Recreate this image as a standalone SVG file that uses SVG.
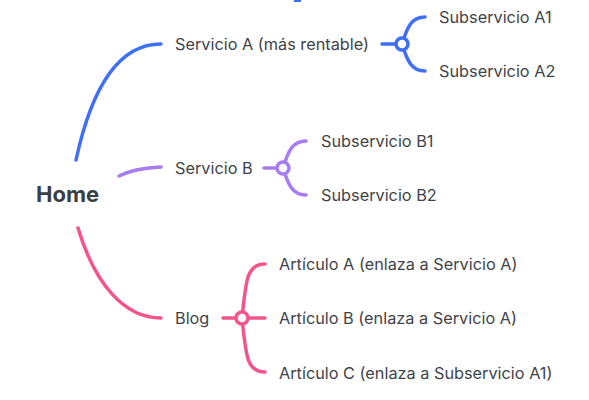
<svg xmlns="http://www.w3.org/2000/svg" width="589" height="400" viewBox="0 0 589 400">
<style>
text{font-family:Inter,"Noto Sans","Liberation Sans",sans-serif;font-size:16.3px;fill:#3f434a;dominant-baseline:central}
.root{font-size:22px;font-weight:700;fill:#3a3e45}
.c{fill:none;stroke-width:3.5;stroke-linecap:round}
.a{stroke:#3f6ff5}.b{stroke:#a67cf0}.p{stroke:#f5548a}
.j{fill:#fff;stroke-width:3.5}
</style>
<rect x="294" y="0" width="7" height="2" fill="#3f6ff5"/>
<g id="connectors">
<path class="c a" d="M76,160 C90,95 115,44 161,44"/>
<path class="c b" d="M119,176 Q135,168 161,167"/>
<path class="c p" d="M78,228 C95,285 125,318 161,318"/>
<path class="c a" d="M382,44 L396,44"/>
<path class="c a" d="M402,44 C407,28 411,17 425,17"/>
<path class="c a" d="M402,44 C407,60 411,71 425,71"/>
<path class="c b" d="M264,168 L277,168"/>
<path class="c b" d="M283,168 C288,152 292,141 306,141"/>
<path class="c b" d="M283,168 C288,184 292,195 306,195"/>
<path class="c p" d="M223,318 L265,318"/>
<path class="c p" d="M242,318 C246,282 246,264 265,264"/>
<path class="c p" d="M242,318 C246,354 246,372 265,372"/>
<circle class="j a" cx="402" cy="44" r="6"/>
<circle class="j b" cx="283" cy="168" r="6"/>
<circle class="j p" cx="242" cy="318" r="6"/>
</g>
<g id="home"><text class="root" x="36" y="194">Home</text></g>
<g id="servicioA"><text x="175" y="44">Servicio A (más rentable)</text></g>
<g id="subA1"><text x="439" y="17">Subservicio A1</text></g>
<g id="subA2"><text x="439" y="71">Subservicio A2</text></g>
<g id="servicioB"><text x="175" y="168">Servicio B</text></g>
<g id="subB1"><text x="321" y="141">Subservicio B1</text></g>
<g id="subB2"><text x="321" y="195">Subservicio B2</text></g>
<g id="blog"><text x="175" y="318">Blog</text></g>
<g id="artA"><text x="279" y="264">Artículo A (enlaza a Servicio A)</text></g>
<g id="artB"><text x="279" y="318">Artículo B (enlaza a Servicio A)</text></g>
<g id="artC"><text x="279" y="373">Artículo C (enlaza a Subservicio A1)</text></g>
</svg>
